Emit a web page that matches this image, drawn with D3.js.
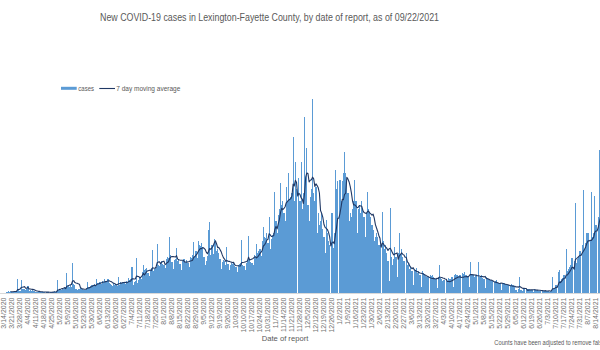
<!DOCTYPE html>
<html>
<head>
<meta charset="utf-8">
<script src="https://cdn.jsdelivr.net/npm/d3@7"></script>
<style>
  body { margin: 0; background: #fff; overflow: hidden; }
  svg { display: block; font-family: "Liberation Sans", Arial, sans-serif; }
</style>
</head>
<body>
<svg id="chart"></svg>
<script>
// daily new cases, one row per week (Sat..Fri), starting 3/14/2020
const startDate = new Date(2020, 2, 14);
const cases = [
  1,1,2,3,4,3,5,
  3,2,5,4,6,36,7,
  6,32,10,9,11,8,12,
  17,5,8,6,7,4,5,
  3,2,4,3,2,3,2,
  2,1,2,3,2,1,2,
  2,3,4,3,5,32,8,
  10,7,12,9,14,16,51,
  18,14,20,16,75,22,19,
  10,8,11,9,12,10,9,
  8,7,12,28,14,16,18,
  20,17,22,19,36,24,25,
  28,22,30,27,36,31,30,
  34,25,22,20,18,24,19,
  22,18,40,21,28,25,27,
  26,22,30,28,38,33,35,
  64,20,28,30,88,26,32,
  40,36,52,71,58,60,62,
  50,42,58,62,107,55,60,
  64,122,70,68,75,80,72,
  70,62,85,90,88,140,95,
  78,60,82,86,112,80,84,
  72,58,80,84,86,78,82,
  76,64,90,88,96,128,92,
  104,88,130,120,118,125,112,
  90,70,80,92,157,178,96,
  120,98,135,130,105,110,100,
  84,60,78,82,80,70,115,
  72,57,70,76,72,74,68,
  64,52,70,72,74,132,70,
  68,58,76,80,143,82,78,
  76,70,96,90,122,100,104,
  110,92,130,165,140,138,150,
  125,190,110,135,145,150,253,
  180,150,195,210,274,220,230,
  200,180,265,230,299,235,240,
  250,389,230,328,260,0,288,
  230,328,210,250,440,280,362,
  220,180,240,260,485,250,230,
  265,150,200,170,180,199,160,
  140,100,182,150,130,120,0,
  200,112,150,307,260,280,0,
  282,230,280,300,353,300,280,
  250,180,200,190,210,230,282,
  230,150,210,220,200,230,210,
  190,140,200,253,210,200,190,
  170,157,130,140,150,140,120,
  120,0,203,130,110,120,100,
  80,30,212,90,70,85,115,
  90,40,100,151,95,110,90,
  80,0,99,70,75,60,65,
  55,20,60,58,62,50,55,
  45,15,55,50,48,42,40,
  40,0,45,42,44,40,38,
  36,12,40,71,38,35,30,
  32,0,35,30,38,34,36,
  40,15,45,48,44,46,42,
  46,0,50,48,52,46,44,
  42,15,78,45,48,46,40,
  44,0,78,40,42,45,38,
  36,12,40,38,35,34,32,
  30,0,28,30,32,26,24,
  25,8,26,24,25,22,20,
  20,0,18,22,19,20,18,
  8,3,10,39,8,7,6,
  9,0,10,9,10,9,8,
  8,3,9,8,7,8,6,
  6,0,7,6,5,7,5,
  5,2,6,8,41,10,12,
  20,0,53,57,30,35,38,
  45,0,111,55,60,65,70,
  87,0,80,224,75,85,90,
  105,0,120,257,110,125,150,
  150,0,130,253,140,150,243,
  170,0,190,357,210,200,195,
  200,0,230,280,240,260,250,
  230,0,260,300,270,280,260,
  240,0,270,320,280,260,250,
  230,0,250,300,260,250,240,
  220,0,240,280
];
const maWindow = 7;
const labelEvery = 7;

const titleText = 'New COVID-19 cases in Lexington-Fayette County, by date of report, as of 09/22/2021';
const xTitle = 'Date of report';
const noteText = 'Counts have been adjusted to remove false positives';
const legendNames = ['cases', '7 day moving average'];

const width = 600, height = 350;
const plotLeft = 3.4, dayWidth = 8 / 7;
const baseY = 293, topY = 93;
const barColor = '#5b9bd5', lineColor = '#203864', textColor = '#595959', tickColor = '#6f6f6f';

const fmt = d3.timeFormat('%-m/%-d/%Y');
const dates = cases.map((d, i) => fmt(d3.timeDay.offset(startDate, i)));

// trailing moving average like the Excel trendline
const ma = cases.map((d, i) => i < maWindow - 1 ? null : d3.mean(cases.slice(i - maWindow + 1, i + 1)));

const svg = d3.select('#chart')
  .attr('width', width)
  .attr('height', height)
  .attr('viewBox', [0, 0, width, height]);

const x = d3.scaleBand()
  .domain(dates)
  .range([plotLeft, plotLeft + dates.length * dayWidth])
  .paddingInner(0).paddingOuter(0);

const y = d3.scaleLinear().domain([0, 500]).range([baseY, topY]);

// title
svg.append('text')
  .attr('x', 269.5).attr('y', 21)
  .attr('text-anchor', 'middle')
  .attr('textLength', 339).attr('lengthAdjust', 'spacingAndGlyphs')
  .style('font-size', '10px').style('fill', textColor)
  .text(titleText);

// bars
svg.append('g')
  .attr('shape-rendering', 'crispEdges')
  .selectAll('rect')
  .data(cases)
  .join('rect')
  .attr('x', (d, i) => x(dates[i]))
  .attr('width', x.bandwidth())
  .attr('y', d => y(d))
  .attr('height', d => y(0) - y(d))
  .style('fill', barColor);

// moving average
const line = d3.line()
  .defined(d => d != null)
  .x((d, i) => x(dates[i]) + x.bandwidth() / 2)
  .y(d => y(d));

svg.append('path')
  .datum(ma)
  .attr('d', line)
  .style('fill', 'none')
  .style('stroke', lineColor)
  .style('stroke-width', 1.1)
  .style('stroke-linejoin', 'round');

// category axis
svg.append('line')
  .attr('x1', 0).attr('x2', plotLeft + dates.length * dayWidth)
  .attr('y1', baseY + 0.5).attr('y2', baseY + 0.5)
  .style('stroke', '#d9d9d9');

const axis = svg.append('g')
  .attr('transform', `translate(0,${baseY + 0.5})`)
  .call(d3.axisBottom(x)
    .tickValues(dates.filter((d, i) => i % labelEvery === 0))
    .tickSize(0));
axis.select('.domain').remove();
axis.selectAll('text')
  .attr('transform', 'rotate(-90)')
  .attr('x', -4).attr('y', 0).attr('dy', '0.35em')
  .style('text-anchor', 'end')
  .style('font-size', '7px')
  .style('font-family', '"Liberation Sans", Arial, sans-serif')
  .style('fill', tickColor);

svg.append('text')
  .attr('x', 261.7).attr('y', 340.5)
  .attr('textLength', 46.6).attr('lengthAdjust', 'spacingAndGlyphs')
  .style('font-size', '8px').style('fill', textColor)
  .text(xTitle);

svg.append('text')
  .attr('transform', 'translate(494.3,345) scale(0.9,1)')
  .style('font-size', '6.4px').style('fill', textColor)
  .text(noteText);

// legend
const legend = svg.append('g');
legend.append('rect')
  .attr('x', 61).attr('y', 86.8).attr('width', 15.7).attr('height', 3)
  .style('fill', barColor);
legend.append('text')
  .attr('x', 78.3).attr('y', 90.6)
  .attr('textLength', 15.7).attr('lengthAdjust', 'spacingAndGlyphs')
  .style('font-size', '6.5px').style('fill', textColor)
  .text(legendNames[0]);
legend.append('line')
  .attr('x1', 99.3).attr('x2', 115).attr('y1', 88.5).attr('y2', 88.5)
  .style('stroke', lineColor).style('stroke-width', 1.1);
legend.append('text')
  .attr('x', 116.3).attr('y', 90.6)
  .attr('textLength', 64).attr('lengthAdjust', 'spacingAndGlyphs')
  .style('font-size', '6.5px').style('fill', textColor)
  .text(legendNames[1]);
</script>
</body>
</html>
